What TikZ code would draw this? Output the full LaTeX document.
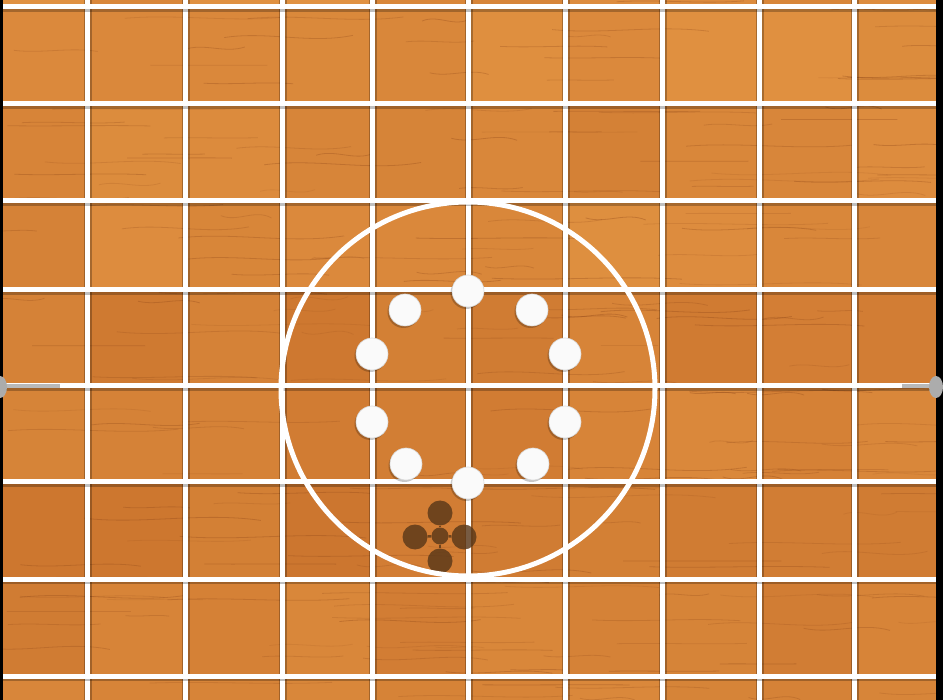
\documentclass[tikz,border=0pt]{standalone}
\usepackage{xcolor}
\usepackage{tikz}
\usetikzlibrary{calc}

\definecolor{woodlight}{HTML}{E79A47}
\definecolor{wooddark}{HTML}{BE6322}
\definecolor{grain}{HTML}{8E4618}
\definecolor{stain}{HTML}{5A3819}

\tikzset{
  grid line/.style={white, line width=5pt},
  grid shadow/.style={black, opacity=0.25, line width=7.5pt},
  puck/.style={circle, fill=white!96!gray, draw=gray!30, line width=0.6pt,
               minimum size=32pt, inner sep=0pt},
  spot/.style={circle, fill=stain, fill opacity=0.82, inner sep=0pt,
               minimum size=25pt},
}

\begin{document}
\begin{tikzpicture}[>=latex, x=1pt, y=-1pt]
    \useasboundingbox (0,0) rectangle (943,700);

    % Nền gỗ: tô từng ô
    \pgfmathsetseed{17}
    \foreach \xa/\xb in {0/87,87/185,185/282,282/372,372/468,468/565,565/662,662/759,759/854,854/943} {
      \foreach \ya/\yb/\s in {0/7/74,7/104/78,104/201/64,201/290/68,290/386/50,386/482/58,482/579/46,579/676/56,676/700/58} {
        \pgfmathtruncatemacro\t{\s + 12*rand}
        \fill[woodlight!\t!wooddark] (\xa,\ya) rectangle (\xb,\yb);
      }
    }

    % Vân gỗ
    \foreach \i in {1,...,220} {
      \pgfmathsetmacro\gx{rnd*943 - 40}
      \pgfmathsetmacro\gy{rnd*700}
      \pgfmathsetmacro\gl{40 + rnd*150}
      \pgfmathsetmacro\gd{(rnd - 0.5)*14}
      \pgfmathsetmacro\go{0.12 + rnd*0.22}
      \draw[grain, opacity=\go, line width=0.8pt]
        (\gx,\gy) .. controls ({\gx+\gl/3},{\gy+\gd}) and ({\gx+2*\gl/3},{\gy-\gd}) .. ({\gx+\gl},{\gy+\gd/3});
    }

    % Lưới trắng
    \foreach \x in {87,185,282,372,468,565,662,759,854} {
      \draw[grid shadow] (\x+1,0) -- (\x+1,700);
      \draw[grid line] (\x,0) -- (\x,700);
    }
    \foreach \y in {7,104,201,290,386,482,579,676} {
      \draw[grid shadow] (0,\y+1.5) -- (943,\y+1.5);
      \draw[grid line] (0,\y) -- (943,\y);
    }

    % Vết bẩn hình chữ thập
    \node[spot, minimum size=17pt] (s0) at (440,536) {};
    \node[spot] (s1) at (440,513) {};
    \node[spot] (s2) at (415,537) {};
    \node[spot] (s3) at (464,537) {};
    \node[spot] (s4) at (440,561) {};
    \foreach \k in {1,...,4}
      \draw[stain, opacity=0.82, line width=2.5pt] (s0) -- (s\k);

    % Vòng tròn giữa
    \draw[white, line width=5pt] (468,389) circle (187pt);

    % Các quân trắng
    \foreach \px/\py [count=\k] in {468/291,532/310,565/354,565/422,533/464,468/483,406/464,372/422,372/354,405/310} {
      \fill[black, opacity=0.22] (\px-1.5,\py+2) circle (16pt);
      \node[puck] (p\k) at (\px,\py) {};
    }

    % Hai mốc ở mép
    \draw[gray!55, line width=3.5pt] (3,386) -- (60,386);
    \draw[gray!55, line width=3.5pt] (902,386) -- (936,386);
    \fill[black] (0,0) rectangle (3,700);
    \fill[black] (936,0) rectangle (943,700);
    \fill[gray!65] (0,387) ellipse (7pt and 11pt);
    \fill[gray!65] (936,387) ellipse (7pt and 11pt);
\end{tikzpicture}
\end{document}
